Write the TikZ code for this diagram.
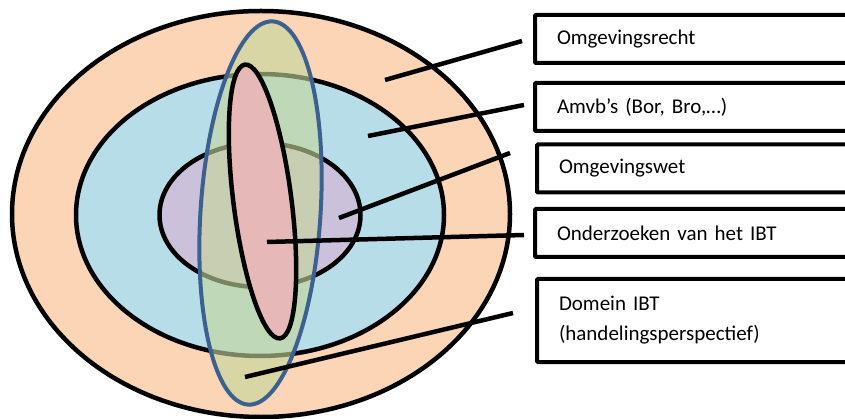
\documentclass[tikz,border=0pt]{standalone}
\usepackage{fontspec}
\setmainfont{Carlito}
\usetikzlibrary{shapes.geometric}
\definecolor{SoftPeach}{RGB}{251,213,181}
\definecolor{SoftBlue}{RGB}{183,222,232}
\definecolor{SoftPurple}{RGB}{204,193,218}
\definecolor{SoftRed}{RGB}{230,185,184}
\definecolor{SoftOlive}{RGB}{196,215,155}
\definecolor{EdgeBlue}{RGB}{60,96,144}
\tikzset{
  ring/.style    = {ellipse, draw=black, line width=4.5pt, inner sep=0pt},
  labelbox/.style = {draw, line width=4pt, rounded corners=1pt, anchor=west,
                    minimum height=48pt, text width=290pt, inner xsep=22pt,
                    align=left, font=\fontsize{21}{30}\selectfont},
  leader/.style  = {line width=4.5pt, black}
}

\begin{document}
\begin{tikzpicture}[x=1pt, y=-1pt]
\useasboundingbox (0,0) rectangle (845,419);
% nested ellipses
\node[ring, fill=SoftPeach, minimum width=498pt, minimum height=406pt] (recht) at (261,214) {};
\node[ring, fill=SoftBlue, minimum width=368pt, minimum height=282pt] (amvb) at (260,215) {};
\node[ring, fill=SoftPurple, minimum width=201pt, minimum height=144pt] (wet) at (260,215) {};
\node[ring, draw=EdgeBlue, line width=4pt, fill=SoftOlive, fill opacity=0.62,
      rotate=-3.7, minimum width=120pt, minimum height=384pt] (domein) at (260.5,213) {};
\node[ring, fill=SoftRed, rotate=7.3, minimum width=58pt, minimum height=276pt] (ibt) at (262.5,201.5) {};
% labels
\node[labelbox] (brecht) at (533,39) {Omgevingsrecht};
\node[labelbox] (bamvb) at (533,107) {Amvb’s (Bor, Bro,…)};
\node[labelbox] (bwet) at (535,168.5) {Omgevingswet};
\node[labelbox] (bibt) at (533,233) {Onderzoeken van het IBT};
\node[labelbox, minimum height=83pt] (bdomein) at (535,320.5) {Domein IBT\\(handelingsperspectief)};
% leader lines
\coordinate (s1) at (385,80);   \coordinate (e1) at (522,41);
\coordinate (s2) at (368,136);  \coordinate (e2) at (524,105);
\coordinate (s3) at (339,218);  \coordinate (e3) at (510,153);
\coordinate (s4) at (267,242);  \coordinate (e4) at (524,235);
\coordinate (s5) at (245,377);  \coordinate (e5) at (513,313);
\foreach \i in {1,...,5}
  \draw[leader] (s\i) -- (e\i);
\end{tikzpicture}
\end{document}
